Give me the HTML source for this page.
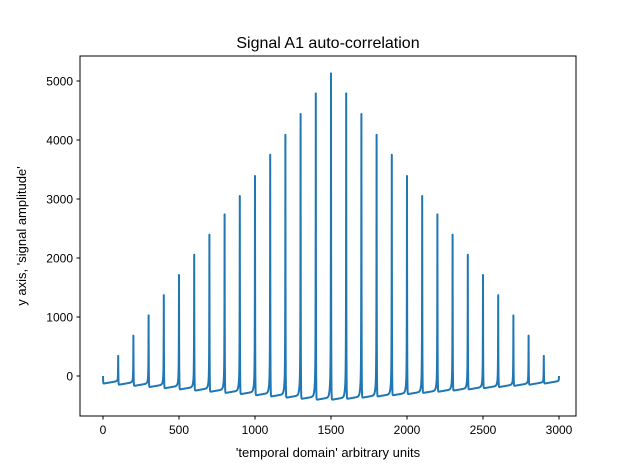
<!DOCTYPE html>
<html><head><meta charset="utf-8"><style>
body{margin:0;background:#fff;}
svg{display:block;font-family:"Liberation Sans","DejaVu Sans",sans-serif;}
</style></head><body>
<svg id="chart" width="640" height="468">
<rect width="640" height="468" fill="#fff"/>
<text x="328" y="48" font-size="16" text-anchor="middle">Signal A1 auto-correlation</text>
<g id="plot"></g>
<rect x="80" y="56" width="496" height="360" fill="none" stroke="#000" stroke-width="1"/>
<g id="xt"></g><g id="yt"></g>
<text x="328" y="457" font-size="13" text-anchor="middle">'temporal domain' arbitrary units</text>
<text transform="translate(26,236) rotate(-90)" font-size="13" text-anchor="middle">y axis, 'signal amplitude'</text>
</svg>
<script>
const peakPositions=[0,100,200,300,400,500,600,700,800,900,1000,1100,1200,1300,1400,1500,1600,1700,1800,1900,2000,2100,2200,2300,2400,2500,2600,2700,2800,2900,3000];
const peakValues=[0,342,685,1027,1370,1712,2055,2397,2740,3050,3390,3750,4090,4440,4790,5130,4790,4440,4090,3750,3390,3050,2740,2397,2055,1712,1370,1027,685,342,0];
const troughValues=[-130,-150,-170,-190,-210,-230,-250,-270,-290,-310,-330,-350,-370,-390,-405,-405,-390,-370,-350,-330,-310,-290,-270,-250,-230,-210,-190,-170,-150,-130];
const xTicks=[0,500,1000,1500,2000,2500,3000];
const yTicks=[0,1000,2000,3000,4000,5000];
const X=v=>103+v*456/3000;
const Y=v=>376-v*0.059;
const NS='http://www.w3.org/2000/svg';
let pts=[];
for(let i=0;i<troughValues.length;i++){
  const x0=peakPositions[i],x1=peakPositions[i+1],Pl=peakValues[i],Pr=peakValues[i+1],T=troughValues[i];
  const rise=45;
  for(let s=0;s<=300;s++){
    const u=s/300;
    const base=T+rise*u;
    const R=Pr-T-rise;
    const v=base+(Pl-T)*Math.exp(-u/0.01)+R*(0.85*Math.exp(-(1-u)/0.01)+0.15*Math.exp(-(1-u)/0.05));
    pts.push(X(x0+(x1-x0)*u).toFixed(2)+','+Y(v).toFixed(2));
  }
}
const pl=document.createElementNS(NS,'polyline');
pl.setAttribute('points',pts.join(' '));
pl.setAttribute('fill','none');pl.setAttribute('stroke','#1f77b4');pl.setAttribute('stroke-width','2');
pl.setAttribute('stroke-linejoin','round');


document.getElementById('plot').appendChild(pl);
const xt=document.getElementById('xt');
xTicks.forEach(t=>{
  const l=document.createElementNS(NS,'line');
  l.setAttribute('x1',X(t));l.setAttribute('x2',X(t));l.setAttribute('y1',416);l.setAttribute('y2',419.5);l.setAttribute('stroke','#000');
  
  
  xt.appendChild(l);
  const tx=document.createElementNS(NS,'text');
  tx.setAttribute('x',X(t));tx.setAttribute('y',434);tx.setAttribute('font-size','12');tx.setAttribute('text-anchor','middle');
  tx.textContent=t;
  
  
  xt.appendChild(tx);
});
const yt=document.getElementById('yt');
yTicks.forEach(t=>{
  const l=document.createElementNS(NS,'line');
  l.setAttribute('x1',76.5);l.setAttribute('x2',80);l.setAttribute('y1',Y(t));l.setAttribute('y2',Y(t));l.setAttribute('stroke','#000');
  
  
  yt.appendChild(l);
  const tx=document.createElementNS(NS,'text');
  tx.setAttribute('x',73);tx.setAttribute('y',Y(t)+4.5);tx.setAttribute('font-size','12');tx.setAttribute('text-anchor','end');
  tx.textContent=t;
  
  
  yt.appendChild(tx);
});
</script>
</body></html>
